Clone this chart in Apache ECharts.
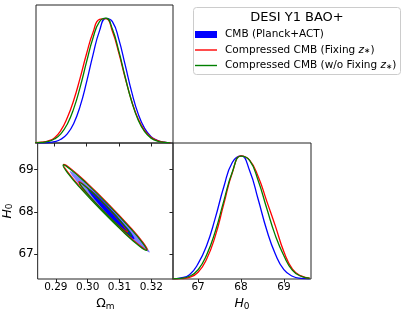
<!DOCTYPE html>
<html><head><meta charset="utf-8">
<script src="https://cdn.jsdelivr.net/npm/echarts@6.0.0/dist/echarts.min.js"></script>
<style>html,body{margin:0;padding:0;background:#fff}#c{width:407px;height:315px}</style>
</head><body><div id="c"></div>
<script>
// ---- data ----
const seriesNames = ['CMB (Planck+ACT)', 'Compressed CMB (Fixing z∗)', 'Compressed CMB (w/o Fixing z∗)'];
const omTicks = [0.29, 0.30, 0.31, 0.32];
const h0Ticks = [67, 68, 69];

const omGrid  = [0.284,0.286,0.288,0.290,0.292,0.294,0.296,0.298,0.300,0.302,0.304,0.306,0.308,0.310,0.312,0.314,0.316,0.318,0.320,0.322,0.324,0.326];
const omBlue  = [0.0002,0.0009,0.0033,0.0105,0.0295,0.0725,0.156,0.294,0.487,0.705,0.894,0.994,0.968,0.826,0.618,0.405,0.232,0.117,0.051,0.020,0.007,0.002];
const omRed   = [0.002,0.006,0.016,0.040,0.100,0.201,0.341,0.519,0.713,0.882,0.986,0.991,0.890,0.716,0.516,0.333,0.192,0.099,0.046,0.019,0.007,0.002];
const omGreen = [0.0013,0.0042,0.0123,0.0317,0.073,0.150,0.274,0.446,0.648,0.839,0.968,0.996,0.908,0.732,0.522,0.329,0.183,0.090,0.039,0.015,0.005,0.0016];

const h0Grid  = [66.4,66.6,66.8,67.0,67.2,67.4,67.6,67.8,68.0,68.2,68.4,68.6,68.8,69.0,69.2,69.4,69.6];
const h0Blue  = [0.002,0.009,0.035,0.124,0.271,0.492,0.746,0.944,0.996,0.878,0.645,0.396,0.203,0.075,0.022,0.005,0.001];
const h0Red   = [0.0005,0.003,0.014,0.055,0.162,0.347,0.607,0.862,0.996,0.961,0.83,0.63,0.43,0.22,0.08,0.025,0.006];
const h0Green = [0.001,0.005,0.022,0.075,0.195,0.384,0.632,0.868,0.994,0.959,0.797,0.572,0.353,0.188,0.07,0.022,0.006];

// 2D contours [Omega_m, H0]
const blueOuter = [[0.31947,67.043],[0.318206,67.2038],[0.313923,67.5795],[0.307767,68.0695],[0.301388,68.5425],[0.296496,68.8717],[0.2944,68.969],[0.295664,68.8082],[0.299948,68.4325],[0.306103,67.9425],[0.312483,67.4695],[0.317374,67.1403]];
const blueInner = [[0.31467,67.362],[0.314029,67.4685],[0.311557,67.7043],[0.307977,68.0112],[0.304229,68.3051],[0.301303,68.5058],[0.29997,68.560],[0.300607,68.4536],[0.303083,68.2177],[0.306663,67.9108],[0.310411,67.6169],[0.313337,67.4162]];
const redOuter = [[0.3187,67.102],[0.317434,67.2750],[0.312988,67.6724],[0.306555,68.1877],[0.299858,68.6829],[0.294692,69.0252],[0.29244,69.123],[0.293706,68.9500],[0.298152,68.5526],[0.304585,68.0373],[0.311282,67.5421],[0.316448,67.1998]];
const redInner = [[0.31251,67.527],[0.311783,67.6292],[0.309205,67.8633],[0.305466,68.1666],[0.30157,68.4578],[0.298559,68.6589],[0.29724,68.716],[0.297967,68.6138],[0.300546,68.3797],[0.304284,68.0764],[0.308181,67.7852],[0.311191,67.5841]];
const greenOuter = [[0.31855,67.090],[0.317284,67.2630],[0.312838,67.6604],[0.306405,68.1757],[0.299708,68.6709],[0.294542,69.0132],[0.29229,69.111],[0.293556,68.9380],[0.298002,68.5406],[0.304435,68.0253],[0.311132,67.5301],[0.316298,67.1878]];
const greenInner = [[0.31375,67.433],[0.312953,67.54],[0.310182,67.7871],[0.306181,68.1081],[0.302022,68.4171],[0.298819,68.6312],[0.29743,68.693],[0.298227,68.586],[0.300998,68.3389],[0.304999,68.0179],[0.309158,67.7089],[0.312361,67.4949]];

// ---- chart ----
const BLUE = '#0000ff', RED = '#ff0000', GREEN = '#008000', LIGHTBLUE = '#8080ff';
const zip = (xs, ys) => xs.map((x, i) => [x, ys[i]]);
const OM_MIN = 0.2843, OM_MAX = 0.3268, H_MIN = 66.415, H_MAX = 69.632;
const LINE_ICON = 'path://M0,0L22,0L22,1.4L0,1.4Z';

function curve(name, xs, ys, color, ax) {
  return { type: 'line', name, xAxisIndex: ax, yAxisIndex: ax, data: zip(xs, ys),
    symbol: 'none', showSymbol: false, smooth: true, lineStyle: { color, width: 1.3 },
    itemStyle: { color }, silent: true };
}
function contour(name, pts, fill, stroke, z) {
  return { type: 'custom', name, xAxisIndex: 1, yAxisIndex: 1, data: pts, z,
    encode: { x: 0, y: 1 }, silent: true,
    itemStyle: { color: stroke || fill },
    renderItem: function (params, api) {
      if (params.dataIndex !== 0) return null;
      const p = pts.map(d => api.coord(d));
      return { type: 'polygon', shape: { points: p, smooth: 0.45 },
        style: { fill: fill || 'none', stroke: stroke || null, lineWidth: stroke ? 1.2 : 0 } };
    } };
}

const tickStyle = { show: true, length: 3.5, lineStyle: { color: '#222', width: 1 } };
const rich = {
  a: { fontSize: 12.5, color: '#000', fontFamily: 'DejaVu Sans' },
  i: { fontSize: 12.5, color: '#000', fontStyle: 'italic', fontFamily: 'DejaVu Sans' },
  b: { fontSize: 9, color: '#000', padding: [5, 0, 0, 0], fontFamily: 'DejaVu Sans' }
};

const option = {
  animation: false,
  backgroundColor: '#fff',
  textStyle: { fontFamily: 'DejaVu Sans', color: '#000' },
  grid: [
    { left: 36, top: 5, width: 137, height: 138, show: true, borderColor: '#222', borderWidth: 1 },
    { left: 36, top: 143, width: 137, height: 136, show: true, borderColor: '#222', borderWidth: 1 },
    { left: 173, top: 143, width: 138, height: 136, show: true, borderColor: '#222', borderWidth: 1 }
  ],
  xAxis: [
    { type: 'value', gridIndex: 0, min: OM_MIN, max: OM_MAX, axisLine: { show: false },
      axisTick: Object.assign({ customValues: omTicks }, tickStyle), axisLabel: { show: false }, splitLine: { show: false } },
    { type: 'value', gridIndex: 1, min: OM_MIN, max: OM_MAX, axisLine: { show: false },
      axisTick: Object.assign({ customValues: omTicks }, tickStyle),
      axisLabel: { customValues: omTicks, formatter: v => v.toFixed(2), fontSize: 10.5, margin: 3, color: '#000' },
      splitLine: { show: false },
      name: '{a|Ω}{b|m}', nameLocation: 'middle', nameGap: 18, nameTextStyle: { rich } },
    { type: 'value', gridIndex: 2, min: H_MIN, max: H_MAX, axisLine: { show: false },
      axisTick: Object.assign({ customValues: h0Ticks }, tickStyle),
      axisLabel: { customValues: h0Ticks, fontSize: 10.5, margin: 3, color: '#000' },
      splitLine: { show: false },
      name: '{i|H}{b|0}', nameLocation: 'middle', nameGap: 18, nameTextStyle: { rich } }
  ],
  yAxis: [
    { type: 'value', gridIndex: 0, min: 0, max: 1.1, show: false },
    { type: 'value', gridIndex: 1, position: 'left', min: H_MIN, max: H_MAX, axisLine: { show: false },
      axisTick: Object.assign({ customValues: h0Ticks }, tickStyle),
      axisLabel: { customValues: h0Ticks, fontSize: 12, margin: 4, color: '#000' },
      splitLine: { show: false },
      name: '{i|H}{b|0}', nameLocation: 'middle', nameGap: 16, nameTextStyle: { rich } },
    { type: 'value', gridIndex: 2, position: 'right', min: 0, max: 1.1, show: false },
    { type: 'value', gridIndex: 2, position: 'left', min: H_MIN, max: H_MAX, axisLine: { show: false },
      axisTick: Object.assign({ customValues: h0Ticks }, tickStyle),
      axisLabel: { show: false }, splitLine: { show: false } }
  ],
  graphic: [
    { type: 'rect', z: 0, shape: { x: 193.5, y: 7.5, width: 207, height: 67, r: 3 },
      style: { fill: '#fff', stroke: '#cccccc', lineWidth: 1 } },
    { type: 'text', z: 1, x: 297, y: 17.5,
      style: { text: 'DESI Y1 BAO+', fontSize: 13, fontFamily: 'DejaVu Sans', fill: '#000', textAlign: 'center', textVerticalAlign: 'middle' } }
  ],
  legend: {
    z: 10, orient: 'vertical', left: 195, top: 29, padding: 0, itemWidth: 22, itemHeight: 7, itemGap: 4.5,
    selectedMode: false,
    data: [{ name: seriesNames[0], icon: 'rect' }, { name: seriesNames[1], icon: LINE_ICON }, { name: seriesNames[2], icon: LINE_ICON }],
    formatter: n => n.replace('z∗', '{i|z}{s|∗}'),
    textStyle: { fontSize: 10.5, color: '#000', fontFamily: 'DejaVu Sans', padding: [0, 0, 0, 3],
      rich: { i: { fontSize: 10.5, fontStyle: 'italic', color: '#000' }, s: { fontSize: 7.5, color: '#000', padding: [3, 0, 0, 0] } } }
  },
  series: [
    curve(seriesNames[0], omGrid, omBlue, BLUE, 0),
    curve(seriesNames[1], omGrid, omRed, RED, 0),
    curve(seriesNames[2], omGrid, omGreen, GREEN, 0),
    curve(seriesNames[0], h0Grid, h0Blue, BLUE, 2),
    curve(seriesNames[1], h0Grid, h0Red, RED, 2),
    curve(seriesNames[2], h0Grid, h0Green, GREEN, 2),
    contour(seriesNames[0], blueOuter, LIGHTBLUE, null, 2),
    contour(seriesNames[0], blueInner, BLUE, null, 3),
    contour(seriesNames[1], redOuter, null, RED, 4),
    contour(seriesNames[1], redInner, null, RED, 4),
    contour(seriesNames[2], greenOuter, null, GREEN, 5),
    contour(seriesNames[2], greenInner, null, GREEN, 5)
  ]
};
echarts.init(document.getElementById('c'), null, { renderer: 'canvas' }).setOption(option);
</script>
</body></html>
